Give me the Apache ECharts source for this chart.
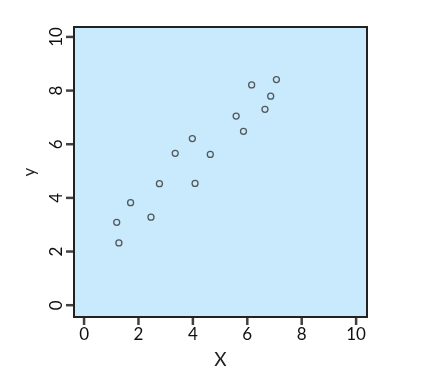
<!DOCTYPE html>
<html><head><meta charset="utf-8">
<script src="https://cdn.jsdelivr.net/npm/echarts@6/dist/echarts.min.js"></script>
<style>html,body{margin:0;padding:0;background:#fff}#c{width:434px;height:374px}</style>
</head><body><div id="c"></div>
<script>
const xValues = [1.20, 1.28, 1.71, 2.46, 2.77, 3.35, 3.98, 4.08, 4.64, 5.59, 5.86, 6.16, 6.65, 6.86, 7.07];
const yValues = [3.09, 2.32, 3.82, 3.28, 4.53, 5.66, 6.21, 4.54, 5.62, 7.05, 6.48, 8.21, 7.30, 7.79, 8.41];
const xTicks = [0, 2, 4, 6, 8, 10];
const yTicks = [0, 2, 4, 6, 8, 10];
const xRange = [-0.37, 10.4];
const yRange = [-0.44, 10.37];
const xName = 'X';
const yName = 'y';

const points = xValues.map((x, i) => [x, yValues[i]]);
const xTickMarks = xTicks.map(v => [v, yRange[0]]);
const yTickMarks = yTicks.map(v => [xRange[0], v]);
const font = 'Lato, "Open Sans", sans-serif';
const chart = echarts.init(document.getElementById('c'), null, {renderer: 'canvas'});
chart.setOption({
  animation: false,
  grid: {left: 74, top: 27, width: 293, height: 290, show: true,
    backgroundColor: '#c9eafc', borderColor: '#222', borderWidth: 2},
  xAxis: {
    type: 'value', min: xRange[0], max: xRange[1],
    name: xName, nameLocation: 'middle', nameGap: 33,
    nameTextStyle: {fontFamily: font, fontSize: 19, color: '#222'},
    axisLine: {show: false, onZero: false},
    axisTick: {show: false},
    axisLabel: {fontFamily: font, fontSize: 17, color: '#111', margin: 9, customValues: xTicks},
    splitLine: {show: false}
  },
  yAxis: {
    type: 'value', min: yRange[0], max: yRange[1],
    name: yName, nameLocation: 'middle', nameGap: 36, nameRotate: 90,
    nameTextStyle: {fontFamily: font, fontSize: 17, color: '#222'},
    axisLine: {show: false, onZero: false},
    axisTick: {show: false},
    axisLabel: {fontFamily: font, fontSize: 17, color: '#111', margin: 9, rotate: 90, customValues: yTicks},
    splitLine: {show: false}
  },
  series: [
    {
      type: 'scatter', data: points, symbol: 'circle', symbolSize: 6,
      itemStyle: {color: 'transparent', borderColor: '#333', borderWidth: 1.3}
    },
    {
      type: 'scatter', data: xTickMarks, symbol: 'rect', symbolSize: [2.5, 7],
      symbolOffset: [0, 4.5], clip: false, silent: true, z: 5,
      itemStyle: {color: '#111'}
    },
    {
      type: 'scatter', data: yTickMarks, symbol: 'rect', symbolSize: [7, 2.5],
      symbolOffset: [-4.5, 0], clip: false, silent: true, z: 5,
      itemStyle: {color: '#111'}
    }
  ]
});
</script></body></html>
